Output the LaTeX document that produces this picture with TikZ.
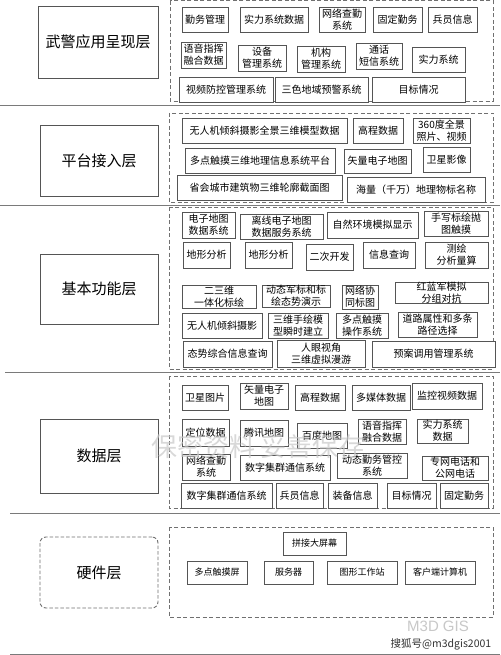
\documentclass[tikz,border=0pt]{standalone}
\usepackage{fontspec}
\setmainfont{Noto Sans CJK SC}
\newfontfamily\latinsans{Liberation Sans}
\definecolor{boxgray}{HTML}{555555}
\definecolor{dashgray}{HTML}{707070}
\definecolor{sepgray}{HTML}{7A7A7A}
\definecolor{wmgray}{HTML}{C8C8C8}
\newcommand\mybox[7][]{\node[bx,#1,minimum width={(#5-#3)*1pt},minimum height={(#6-#4)*1pt}] (#2) at ({(#3+#5)/2},{(#4+#6)/2}) {#7};}
\begin{document}
\begin{tikzpicture}[x=1pt,y=-1pt,
  bx/.style={draw=boxgray,line width=0.9pt,inner sep=0pt,align=center,fill=white,font=\fontsize{10}{12}\selectfont},
  hw/.style={font=\fontsize{9}{11}\selectfont},
  lbl/.style={bx,font=\fontsize{15}{18}\selectfont},
  lbldash/.style={lbl,dashed,dash pattern=on 3.5pt off 2pt,draw=dashgray,rounded corners=6pt},
  cont/.style={draw=dashgray,dash pattern=on 4pt off 2.5pt,line width=0.8pt},
  sep/.style={draw=sepgray,line width=1pt}]
\useasboundingbox (0,0) rectangle (500,655);
\fill[white] (0,0) rectangle (500,655);
% separators
\draw[sep] (0,106) -- (500,106);
\draw[sep] (0,205) -- (500,205);
\draw[sep] (5,372) -- (500,372);
\draw[sep] (10,513) -- (500,513);
\draw[sep] (10,654) -- (500,654);
% containers
\draw[cont] (170,0.6) rectangle (493,101);
\draw[cont] (169,113) rectangle (493,202);
\draw[cont] (169,207) rectangle (493,369);
\draw[cont] (169,376) rectangle (493,508);
\draw[cont] (169,527) rectangle (493,617);
% left labels
\mybox[lbl]{L1}{38}{6}{158}{78}{武警应用呈现层}
\mybox[lbl]{L2}{40}{125}{158}{196}{平台接入层}
\mybox[lbl]{L3}{40}{254}{158}{324}{基本功能层}
\mybox[lbl]{L4}{40}{419}{158}{493}{数据层}
\mybox[lbldash]{L5}{40}{537}{158}{608}{硬件层}
% top layer
\mybox{t1}{182}{7}{228}{32}{勤务管理}
\mybox{t2}{240}{7}{308}{32}{实力系统数据}
\mybox{t3}{319}{7}{365}{32}{网络查勤\\系统}
\mybox{t4}{373}{7}{422}{32}{固定勤务}
\mybox{t5}{428}{7}{477}{32}{兵员信息}
\mybox{t6}{181}{42}{226}{68}{语音指挥\\融合数据}
\mybox{t7}{238}{45}{286}{71}{设备\\管理系统}
\mybox{t8}{297}{46}{345}{72}{机构\\管理系统}
\mybox{t9}{356}{43}{402}{69}{通话\\短信系统}
\mybox{t10}{412}{47}{465}{72}{实力系统}
\mybox{t11}{179}{77}{273}{102}{视频防控管理系统}
\mybox{t12}{275}{77}{368}{102}{三色地域预警系统}
\mybox{t13}{372}{77}{465}{102}{目标情况}
% platform layer
\mybox{p1}{182}{118}{347}{143}{无人机倾斜摄影全景三维模型数据}
\mybox{p2}{353}{118}{403}{143}{高程数据}
\mybox{p3}{413}{118}{470}{143}{360度全景\\照片、视频}
\mybox{p4}{185}{148}{335}{173}{多点触摸三维地理信息系统平台}
\mybox{p5}{344}{149}{411}{173}{矢量电子地图}
\mybox{p6}{423}{147}{470}{172}{卫星影像}
\mybox{p7}{177}{175}{342}{200}{省会城市建筑物三维轮廓截面图}
\mybox{p8}{347}{177}{485}{202}{海量（千万）地理物标名称}
% function layer
\mybox{f1}{182}{212}{235}{238}{电子地图\\数据系统}
\mybox{f2}{240}{214}{323}{239}{离线电子地图\\数据服务系统}
\mybox{f3}{327}{212}{418}{238}{自然环境模拟显示}
\mybox{f4}{424}{211}{488}{236}{手写标绘抛\\图触摸}
\mybox{f5}{183}{242}{230}{268}{地形分析}
\mybox{f6}{245}{242}{292}{268}{地形分析}
\mybox{f7}{306}{244}{353}{270}{二次开发}
\mybox{f8}{363}{242}{415}{268}{信息查询}
\mybox{f9}{425}{242}{488}{268}{测绘\\分析量算}
\mybox{f10}{182}{285}{256}{308}{二三维\\一体化标绘}
\mybox{f11}{262}{285}{330}{307}{动态军标和标\\绘态势演示}
\mybox{f12}{342}{285}{378}{309}{网络协\\同标图}
\mybox{f13}{395}{283}{488}{303}{红蓝军模拟\\分组对抗}
\mybox{f14}{182}{313}{262}{338}{无人机倾斜摄影}
\mybox{f15}{268}{313}{328}{338}{三维手绘模\\型瞬时建立}
\mybox{f16}{336}{313}{388}{338}{多点触摸\\操作系统}
\mybox{f17}{398}{312}{477}{337}{道路属性和多条\\路径选择}
\mybox{f18}{183}{341}{272}{367}{态势综合信息查询}
\mybox{f19}{277}{340}{365}{367}{人眼视角\\三维虚拟漫游}
\mybox{f20}{372}{341}{495}{367}{预案调用管理系统}
% data layer
\mybox{d1}{182}{385}{228}{410}{卫星图片}
\mybox{d2}{240}{383}{288}{409}{矢量电子\\地图}
\mybox{d3}{295}{385}{345}{410}{高程数据}
\mybox{d4}{352}{385}{410}{410}{多媒体数据}
\mybox{d5}{412}{383}{482}{409}{监控视频数据}
\mybox{d6}{182}{419}{229}{446}{定位数据}
\mybox{d7}{240}{420}{288}{446}{腾讯地图}
\mybox{d8}{297}{423}{347}{448}{百度地图}
\mybox{d9}{358}{419}{406}{444}{语音指挥\\融合数据}
\mybox{d10}{417}{419}{468}{443}{实力系统\\数据}
\mybox{d11}{182}{454}{230}{480}{网络查勤\\系统}
\mybox{d12}{240}{455}{330}{480}{数字集群通信系统}
\mybox{d13}{337}{453}{407}{478}{动态勤务管控\\系统}
\mybox{d14}{422}{456}{488}{480}{专网电话和\\公网电话}
\mybox{d15}{181}{483}{272}{508}{数字集群通信系统}
\mybox{d16}{276}{483}{323}{508}{兵员信息}
\mybox{d17}{328}{483}{377}{508}{装备信息}
\mybox{d18}{387}{483}{436}{508}{目标情况}
\mybox{d19}{440}{483}{488}{508}{固定勤务}
% hardware layer
\mybox[hw]{h1}{283}{532}{346}{555}{拼接大屏幕}
\mybox[hw]{h2}{187}{561}{247}{584}{多点触摸屏}
\mybox[hw]{h3}{264}{561}{313}{584}{服务器}
\mybox[hw]{h4}{327}{561}{397}{584}{图形工作站}
\mybox[hw]{h5}{405}{561}{475}{584}{客户端计算机}
% watermarks
\node[text=wmgray,opacity=0.7,font=\fontsize{26}{28}\selectfont,inner sep=0] (wm) at (258,447) {保密资料\ 妥善保存};
\node[text=wmgray,font=\latinsans\fontsize{15}{17}\selectfont,inner sep=0] (m3d) at (438,626) {M3D GIS};
\node[text=black!80,font=\fontsize{10.5}{12}\selectfont,inner sep=0] (sohu) at (441,644) {搜狐号@m3dgis2001};
\end{tikzpicture}
\end{document}
